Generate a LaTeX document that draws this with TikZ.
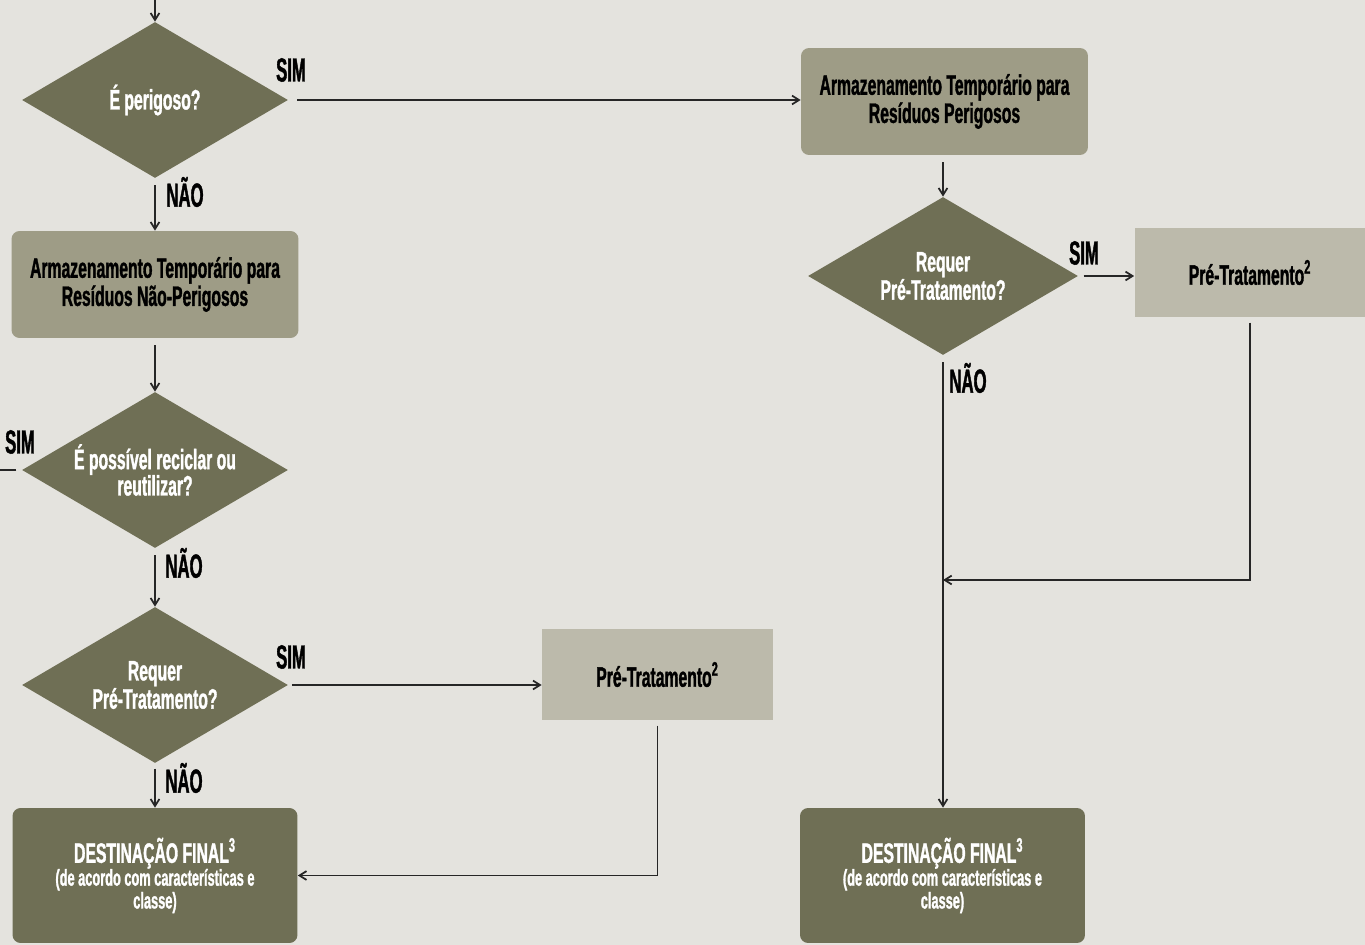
\documentclass[tikz,border=0pt]{standalone}
\usepackage{fontspec}
\setmainfont{Liberation Sans}[FakeStretch=0.56,BoldFeatures={FakeBold=1.2}]
\newfontfamily\lblfont{Liberation Sans}[FakeStretch=0.5,BoldFeatures={FakeBold=1.2}]
\usepackage{xcolor}
\usetikzlibrary{positioning,arrows.meta,shapes.geometric}
\definecolor{bgcol}{HTML}{E4E3DE}
\definecolor{olive}{HTML}{6F6F55}
\definecolor{stone}{HTML}{9E9C86}
\definecolor{sand}{HTML}{BCBAAB}

\begin{document}
\begin{tikzpicture}[x=0.02cm,y=-0.02cm,>={Straight Barb[length=4pt,width=5pt]},
  ask/.style={diamond,fill=olive,text=white,inner sep=0pt,shape aspect=1.7,
    minimum width=5.32cm,minimum height=3.12cm,align=center,
    font=\bfseries\fontsize{16}{15}\selectfont},
  store/.style={rectangle,rounded corners=0.16cm,fill=stone,text=black,align=center,
    minimum width=5.74cm,minimum height=2.14cm,font=\bfseries\fontsize{16}{16}\selectfont},
  pretreat/.style={rectangle,fill=sand,text=black,minimum width=4.62cm,minimum height=1.82cm,
    font=\bfseries\fontsize{16}{16}\selectfont},
  final/.style={rectangle,rounded corners=0.16cm,fill=olive,text=white,align=center,
    minimum width=5.7cm,minimum height=2.7cm,font=\bfseries\fontsize{13}{13}\selectfont},
  tag/.style={text=black,inner sep=0pt,font=\lblfont\bfseries\fontsize{19}{19}\selectfont},
  link/.style={line width=1pt,black!85}]
\fill[bgcol] (0,0) rectangle (1365,945);
\useasboundingbox (0,0) rectangle (1365,945);
% left column
\coordinate (in) at (155,0);
\node[ask] (perigo) at (155,100) {É perigoso?};
\node[store] (armnp) at (155,284.5) {Armazenamento Temporário para\\Resíduos Não-Perigosos};
\node[ask] (recicla) at (155,470) {É possível reciclar ou\\reutilizar?};
\coordinate (out) at (0,470);
\node[ask] (reqa) at (155,685) {Requer\\Pré-Tratamento?};
\node[pretreat] (prea) at (657.5,674.5) {Pré-Tratamento\textsuperscript{2}};
\node[final] (desta) at (155,875.5) {{\fontsize{16}{17}\selectfont DESTINAÇÃO FINAL\textsuperscript{3}}\\(de acordo com características e\\classe)};
% right column
\node[store] (armp) at (944.5,101.5) {Armazenamento Temporário para\\Resíduos Perigosos};
\node[ask,minimum width=5.4cm,minimum height=3.16cm] (reqb) at (943,276) {Requer\\Pré-Tratamento?};
\node[pretreat,minimum height=1.78cm] (preb) at (1250,272.5) {Pré-Tratamento\textsuperscript{2}};
\coordinate (merge) at (943,580);
\node[final] (destb) at (942.5,875.5) {{\fontsize{16}{17}\selectfont DESTINAÇÃO FINAL\textsuperscript{3}}\\(de acordo com características e\\classe)};
% connectors
\draw[link,->] (in) -- (perigo.north);
\draw[link,->,shorten <=5pt] (perigo.east) -- (perigo.east -| armp.west);
\draw[link,->,shorten <=4pt] (perigo.south) -- (armnp.north);
\draw[link,->,shorten <=4pt] (armnp.south) -- (recicla.north);
\draw[link,shorten <=3pt] (recicla.west) -- (out);
\draw[link,->,shorten <=4pt] (recicla.south) -- (reqa.north);
\draw[link,->,shorten <=2pt] (reqa.east) -- (reqa.east -| prea.west);
\draw[link,->,shorten <=3pt] (prea.south) |- (desta.east);
\draw[link,->,shorten <=3pt] (reqa.south) -- (desta.north);
\draw[link,->,shorten <=4pt] (reqb.north |- armp.south) -- (reqb.north);
\draw[link,->,shorten <=3pt] (reqb.east) -- (reqb.east -| preb.west);
\draw[link,->,shorten <=3pt] (preb.south) |- (merge);
\draw[link,->,shorten <=4pt] (reqb.south) -- (reqb.south |- destb.north);
% labels
\node[tag] (sima) at (291,70) {SIM};
\node[tag] (naoa) at (185,192) {NÃO};
\node[tag] (simb) at (20,442) {SIM};
\node[tag] (naob) at (184,563) {NÃO};
\node[tag] (simc) at (291,657) {SIM};
\node[tag] (naoc) at (184,778) {NÃO};
\node[tag] (simd) at (1084,253) {SIM};
\node[tag] (naod) at (968,378) {NÃO};
\end{tikzpicture}
\end{document}
